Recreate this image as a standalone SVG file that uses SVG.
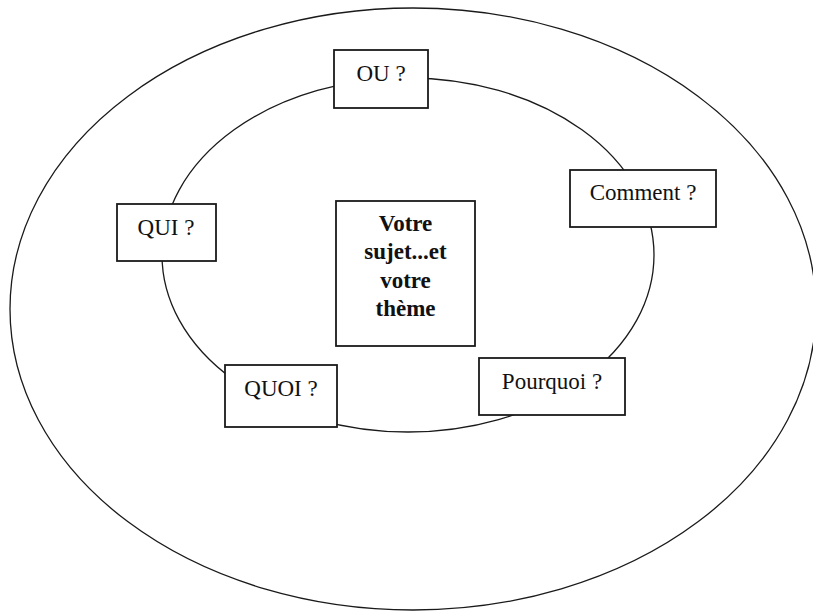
<svg xmlns="http://www.w3.org/2000/svg" width="813" height="612" viewBox="0 0 813 612">
  <style>
    .ring { fill: none; stroke: #1a1a1a; stroke-width: 1.3; }
    .box { fill: #ffffff; stroke: #1a1a1a; stroke-width: 1.8; }
    .lbl { font-family: "Liberation Serif", "Times New Roman", serif; font-size: 23px; fill: #111111; text-anchor: middle; }
    .ctr { font-family: "Liberation Serif", "Times New Roman", serif; font-size: 23px; font-weight: bold; fill: #111111; text-anchor: middle; }
  </style>
  <rect x="0" y="0" width="813" height="612" fill="#ffffff"/>
  <g id="rings">
    <ellipse class="ring" cx="413" cy="309" rx="403" ry="301"/>
    <ellipse class="ring" cx="408" cy="255" rx="246" ry="177"/>
  </g>
  <g id="connectors"></g>
  <g id="node-ou">
    <rect class="box" x="334" y="50" width="94" height="58"/>
    <text class="lbl" x="381" y="81">OU ?</text>
  </g>
  <g id="node-comment">
    <rect class="box" x="570" y="170" width="146" height="57"/>
    <text class="lbl" x="643" y="200">Comment ?</text>
  </g>
  <g id="node-qui">
    <rect class="box" x="117" y="204" width="99" height="57"/>
    <text class="lbl" x="166" y="235">QUI ?</text>
  </g>
  <g id="node-centre">
    <rect class="box" x="336" y="201" width="139" height="145"/>
    <text class="ctr" x="405.5" y="231">Votre</text>
    <text class="ctr" x="405.5" y="259">sujet...et</text>
    <text class="ctr" x="405.5" y="288">votre</text>
    <text class="ctr" x="405.5" y="316">thème</text>
  </g>
  <g id="node-quoi">
    <rect class="box" x="225" y="365" width="112" height="62"/>
    <text class="lbl" x="281" y="396">QUOI ?</text>
  </g>
  <g id="node-pourquoi">
    <rect class="box" x="479" y="358" width="146" height="57"/>
    <text class="lbl" x="552" y="389">Pourquoi ?</text>
  </g>
</svg>
